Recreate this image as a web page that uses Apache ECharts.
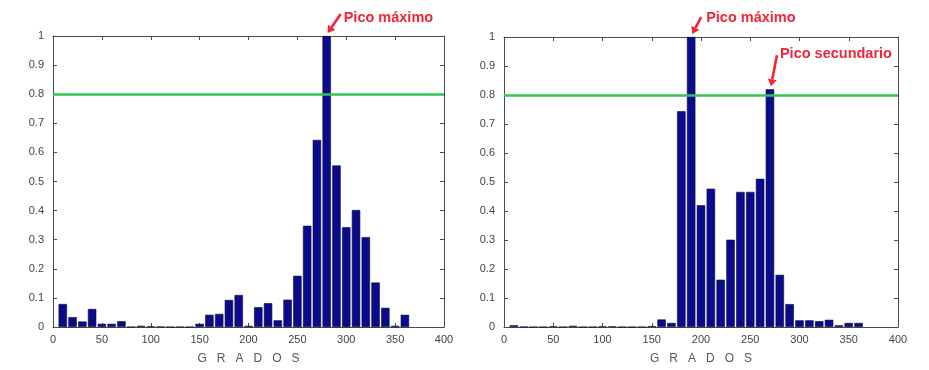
<!DOCTYPE html>
<html>
<head>
<meta charset="utf-8">
<script src="https://cdn.jsdelivr.net/npm/echarts@6/dist/echarts.min.js"></script>
<style>
html,body{margin:0;padding:0;background:#fff;}
#chart{width:929px;height:370px;}
</style>
</head>
<body>
<div id="chart"></div>
<script>
// ---- data ----
const degrees = [10,20,30,40,50,60,70,80,90,100,110,120,130,140,150,160,170,180,190,200,210,220,230,240,250,260,270,280,290,300,310,320,330,340,350,360];
const leftValues = [0.079,0.034,0.019,0.062,0.011,0.011,0.02,0,0.004,0.002,0.001,0,0,0,0.011,0.042,0.045,0.093,0.11,0.004,0.068,0.082,0.023,0.094,0.176,0.348,0.643,1,0.555,0.343,0.402,0.309,0.153,0.066,0.004,0.042];
const rightValues = [0.006,0.001,0,0,0.002,0,0.004,0,0,0.002,0.002,0,0,0,0.003,0.026,0.014,0.744,1,0.42,0.477,0.163,0.301,0.466,0.466,0.511,0.82,0.18,0.079,0.023,0.023,0.02,0.025,0.006,0.014,0.014];
const threshold = 0.8;
const xMin = 0, xMax = 400, xInterval = 50;
const yMin = 0, yMax = 1, yInterval = 0.1;
const xAxisTitle = 'G   R   A   D   O   S';
const peakLabelMax = 'Pico máximo';
const peakLabelSecond = 'Pico secundario';

// ---- chart ----
const chart = echarts.init(document.getElementById('chart'), null, {renderer:'canvas'});
const grids = [
  {left:53, right:485, top:36, bottom:40},
  {left:504, right:31, top:37, bottom:40}
];
const frameColor = '#4a4a4a';
const labelStyle = {color:'#444', fontSize:11, fontFamily:'Liberation Sans, Arial, sans-serif'};

function xAxes(gi){
  return [
    {type:'value', gridIndex:gi, min:xMin, max:xMax, interval:xInterval, position:'bottom',
     axisLine:{show:true, onZero:false, lineStyle:{color:frameColor, width:1}},
     axisTick:{show:true, inside:true, length:4, lineStyle:{color:frameColor}},
     axisLabel:Object.assign({margin:7}, labelStyle),
     splitLine:{show:false},
     name:xAxisTitle, nameLocation:'middle', nameGap:26,
     nameTextStyle:{color:'#555', fontSize:12, fontFamily:'Liberation Sans, Arial, sans-serif'}},
    {type:'value', gridIndex:gi, min:xMin, max:xMax, interval:xInterval, position:'top',
     axisLine:{show:true, onZero:false, lineStyle:{color:frameColor, width:1}},
     axisTick:{show:true, inside:true, length:4, lineStyle:{color:frameColor}},
     axisLabel:{show:false}, splitLine:{show:false}}
  ];
}
function yAxes(gi){
  return [
    {type:'value', gridIndex:gi, min:yMin, max:yMax, interval:yInterval, position:'left',
     axisLine:{show:true, onZero:false, lineStyle:{color:frameColor, width:1}},
     axisTick:{show:true, inside:true, length:4, lineStyle:{color:frameColor}},
     axisLabel:Object.assign({margin:9}, labelStyle),
     splitLine:{show:false}},
    {type:'value', gridIndex:gi, min:yMin, max:yMax, interval:yInterval, position:'right',
     axisLine:{show:true, onZero:false, lineStyle:{color:frameColor, width:1}},
     axisTick:{show:true, inside:true, length:4, lineStyle:{color:frameColor}},
     axisLabel:{show:false}, splitLine:{show:false}}
  ];
}

function barWidthFor(gi){
  const w = 929 - grids[gi].left - grids[gi].right;
  return w / (xMax - xMin) * (degrees[1]-degrees[0]) * 0.86;
}

function barSeries(values, axisIdx, gi){
  return {
    type:'bar', xAxisIndex:axisIdx, yAxisIndex:axisIdx,
    data: degrees.map((d,i)=>[d, values[i]]),
    barWidth: barWidthFor(gi),
    itemStyle:{color:'#0a0a8c', borderColor:'#101030', borderWidth:0.6},
    silent:true, animation:false,
    markLine:{
      silent:true, symbol:'none', animation:false,
      label:{show:false},
      lineStyle:{color:'#33c455', width:2.5, type:'solid'},
      data:[{yAxis:threshold}]
    }
  };
}

const option = {
  backgroundColor:'#fff',
  animation:false,
  grid: grids,
  xAxis: [...xAxes(0), ...xAxes(1)],
  yAxis: [...yAxes(0), ...yAxes(1)],
  series: [barSeries(leftValues, 0, 0), barSeries(rightValues, 2, 1)]
};
chart.setOption(option);

// ---- annotations (positioned through the chart's own scales) ----
function peakIndex(values){
  let m = 0; values.forEach((v,i)=>{ if(v>values[m]) m=i; }); return m;
}
function secondPeakIndex(values){
  const p = peakIndex(values); let best=-1;
  values.forEach((v,i)=>{
    if(Math.abs(i-p)>2 && i>0 && i<values.length-1 && v>=values[i-1] && v>=values[i+1]){
      if(best<0 || v>values[best]) best=i;
    }
  });
  return best;
}
function arrow(tip, tail, color){
  const dx = tip[0]-tail[0], dy = tip[1]-tail[1];
  const len = Math.sqrt(dx*dx+dy*dy), ux = dx/len, uy = dy/len;
  const hl = 7, hw = 4.5;
  const base = [tip[0]-ux*hl, tip[1]-uy*hl];
  return [
    {type:'line', shape:{x1:tail[0], y1:tail[1], x2:base[0], y2:base[1]}, style:{stroke:color, lineWidth:2.6}, z:100},
    {type:'polygon', shape:{points:[tip, [base[0]-uy*hw, base[1]+ux*hw], [base[0]+uy*hw, base[1]-ux*hw]]}, style:{fill:color}, z:100}
  ];
}
const red = '#f2243a';
const annFont = 'bold 14.5px Liberation Sans, Arial, sans-serif';
function annotation(axisIdx, values, idx, text, tailOff, textOff){
  const top = chart.convertToPixel({xAxisIndex:axisIdx, yAxisIndex:axisIdx}, [degrees[idx], values[idx]]);
  const tip = [top[0]+1, top[1]-3];
  const tail = [top[0]+tailOff[0], top[1]+tailOff[1]];
  const els = arrow(tip, tail, red);
  els.push({type:'text', x:tail[0]+textOff[0], y:tail[1]+textOff[1], z:100,
    style:{text:text, font:annFont, fill:red, textVerticalAlign:'middle', textAlign:'left'}});
  return els;
}
const graphics = [
  ...annotation(0, leftValues, peakIndex(leftValues), peakLabelMax, [14,-22], [3,4]),
  ...annotation(2, rightValues, peakIndex(rightValues), peakLabelMax, [10,-20], [5,1]),
  ...annotation(2, rightValues, secondPeakIndex(rightValues), peakLabelSecond, [7,-34], [3,-1])
];
chart.setOption({graphic: graphics});
</script>
</body>
</html>
